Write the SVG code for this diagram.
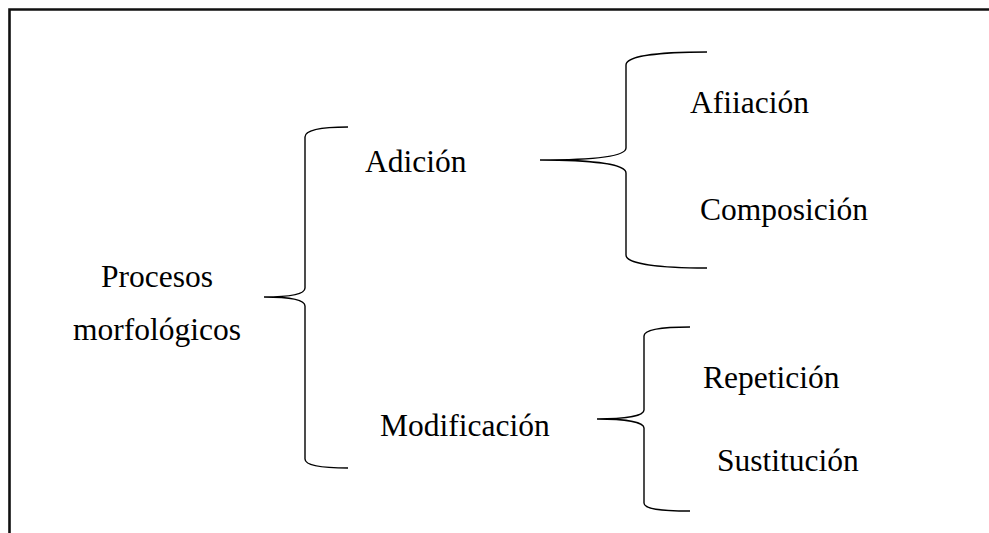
<svg xmlns="http://www.w3.org/2000/svg" width="989" height="533" viewBox="0 0 989 533">
<style>
.t{font-family:"Liberation Serif","Times New Roman",serif;font-size:31.5px;fill:#000}
.b{fill:none;stroke:#000;stroke-width:1.4;stroke-linecap:butt}
.frame{fill:none;stroke:#111;stroke-width:2.6}
</style>
<rect width="989" height="533" fill="#fff"/>
<path class="frame" d="M9.5,533 V9.5 H989"/>
<g id="connectors">
<path class="b" d="M348,127 C320,127 305,130 305,137 L305,288 C305,294 290,297 264,297 C290,297 305,300 305,306 L305,459 C305,465 320,468 348,468"/>
<path class="b" d="M707,52 C660,52 626,56 626,65 L626,148 C626,157 590,160 540,160 C590,160 626,164 626,173 L626,255 C626,264 660,268 707,268"/>
<path class="b" d="M690,327 C660,327 644,330 644,336 L644,410 C644,416 625,419 597,419 C625,419 644,422 644,428 L644,503 C644,509 660,511 690,511"/>
</g>
<g id="procesos"><text class="t" x="157" y="287" text-anchor="middle">Procesos</text><text class="t" x="157" y="340" text-anchor="middle">morfológicos</text></g>
<g id="adicion"><text class="t" x="365" y="172">Adición</text></g>
<g id="afijacion"><text class="t" x="690" y="113">Afiiación</text></g>
<g id="composicion"><text class="t" x="700" y="220">Composición</text></g>
<g id="modificacion"><text class="t" x="380" y="436">Modificación</text></g>
<g id="repeticion"><text class="t" x="703" y="388">Repetición</text></g>
<g id="sustitucion"><text class="t" x="717" y="471">Sustitución</text></g>
</svg>
